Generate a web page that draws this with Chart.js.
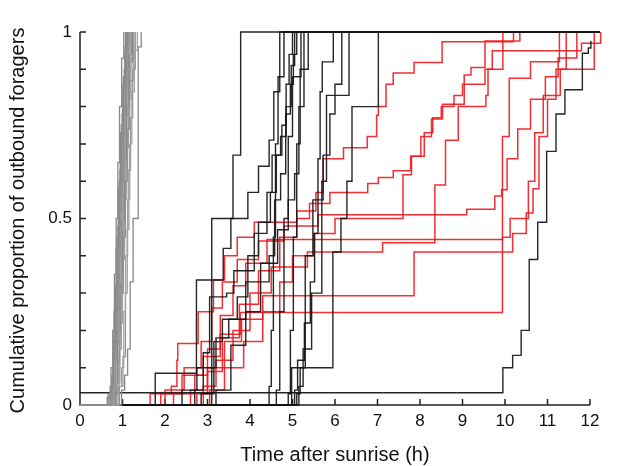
<!DOCTYPE html>
<html><head><meta charset="utf-8">
<style>html,body{margin:0;padding:0;background:#fff}#wrap{width:624px;height:466px}</style>
<script src="https://cdn.jsdelivr.net/npm/chart.js@4/dist/chart.umd.min.js"></script>
</head><body><div id="wrap"><canvas id="c" width="624" height="466"></canvas></div>
<script>
// ---- data: each series = [time after sunrise (h), cumulative proportion] at each step ----
const xTickValues = [0,1,2,3,4,5,6,7,8,9,10,11,12];
const yTickLabels = [0, 0.5, 1];
const yMinorTicks = [0,0.1,0.2,0.3,0.4,0.5,0.6,0.7,0.8,0.9,1];
const observationEnd = 12.22;
const xTitle = "Time after sunrise (h)";
const yTitle = "Cumulative proportion of outbound foragers";

const graySeries = [
 [[0.72,0.05],[0.78,0.15],[0.83,0.30],[0.87,0.45],[0.92,0.60],[0.97,0.75],[1.02,0.88],[1.07,1]],
 [[0.75,0.04],[0.81,0.12],[0.85,0.25],[0.90,0.40],[0.95,0.55],[1.00,0.70],[1.05,0.85],[1.11,0.95],[1.15,1]],
 [[0.68,0.03],[0.77,0.10],[0.82,0.22],[0.88,0.38],[0.93,0.52],[0.98,0.66],[1.03,0.80],[1.09,0.92],[1.13,1]],
 [[0.80,0.05],[0.85,0.18],[0.91,0.33],[0.96,0.47],[1.01,0.62],[1.06,0.77],[1.12,0.90],[1.19,1]],
 [[0.83,0.06],[0.89,0.20],[0.94,0.35],[0.99,0.50],[1.04,0.66],[1.09,0.80],[1.15,0.92],[1.23,1]],
 [[0.66,0.03],[0.73,0.10],[0.77,0.20],[0.81,0.35],[0.85,0.50],[0.89,0.65],[0.93,0.80],[0.98,0.93],[1.03,1]],
 [[0.85,0.04],[0.92,0.15],[0.97,0.30],[1.02,0.45],[1.07,0.60],[1.12,0.74],[1.17,0.87],[1.25,1]],
 [[0.77,0.04],[0.82,0.13],[0.87,0.27],[0.92,0.42],[0.96,0.58],[1.01,0.72],[1.06,0.86],[1.10,1]],
 [[0.90,0.05],[0.98,0.10],[1.03,0.25],[1.07,0.40],[1.12,0.55],[1.17,0.70],[1.22,0.84],[1.28,0.95],[1.35,1]],
 [[0.98,0.04],[1.05,0.08],[1.12,0.15],[1.18,0.33],[1.25,0.50],[1.37,0.71],[1.37,0.96],[1.44,1]],
 [[0.71,0.05],[0.79,0.17],[0.84,0.32],[0.89,0.48],[0.94,0.63],[0.99,0.78],[1.04,0.90],[1.08,1]],
 [[0.81,0.03],[0.87,0.12],[0.93,0.28],[0.98,0.43],[1.03,0.57],[1.08,0.71],[1.13,0.84],[1.17,0.94],[1.21,1]],
 [[0.75,0.07],[0.80,0.20],[0.86,0.36],[0.91,0.51],[0.95,0.67],[1.00,0.82],[1.05,0.94],[1.09,1]],
 [[0.87,0.06],[0.94,0.22],[1.00,0.39],[1.05,0.55],[1.10,0.69],[1.14,0.82],[1.20,0.93],[1.27,1]],
 [[0.64,0.02],[0.75,0.08],[0.80,0.25],[0.85,0.42],[0.90,0.58],[0.95,0.73],[1.01,0.86],[1.06,0.96],[1.11,1]],
 [[0.79,0.05],[0.84,0.16],[0.89,0.31],[0.94,0.46],[0.99,0.62],[1.04,0.76],[1.09,0.88],[1.14,1]],
 [[0.93,0.05],[1.01,0.13],[1.07,0.30],[1.11,0.47],[1.15,0.63],[1.19,0.77],[1.24,0.90],[1.30,1]],
 [[0.82,0.04],[0.88,0.17],[0.94,0.34],[0.99,0.49],[1.04,0.64],[1.09,0.78],[1.14,0.89],[1.18,1]],
 [[0.74,0.04],[0.81,0.14],[0.86,0.29],[0.91,0.44],[0.96,0.60],[1.01,0.74],[1.07,0.87],[1.12,0.97],[1.16,1]],
 [[0.78,0.06],[0.83,0.21],[0.88,0.37],[0.93,0.53],[0.97,0.69],[1.02,0.84],[1.07,0.95],[1.12,1]]
];

const blackSeries = [
 [[3.10,0.50],[3.60,0.67],[3.78,1]],
 [[1.77,0.085],[2.74,0.335],[3.37,0.42],[3.55,0.50],[3.95,0.57],[4.20,0.64],[4.45,0.71],[4.56,0.84],[4.70,1]],
 [[2.70,0.04],[2.90,0.14],[3.05,0.29],[3.45,0.30],[3.62,0.36],[4.10,0.46],[4.40,0.57],[4.52,0.67],[4.75,0.75],[4.85,0.86],[4.92,0.94],[5.00,1]],
 [[2.85,0.03],[3.15,0.17],[3.35,0.23],[3.70,0.29],[3.95,0.40],[4.20,0.49],[4.48,0.57],[4.62,0.67],[4.72,0.72],[4.85,0.80],[4.97,0.91],[5.05,1]],
 [[3.20,0.04],[3.55,0.16],[3.90,0.25],[4.25,0.33],[4.45,0.40],[4.58,0.55],[4.72,0.62],[4.84,0.78],[4.95,0.86],[5.02,0.94],[5.10,1]],
 [[4.62,0.04],[4.70,0.25],[4.80,0.50],[4.90,0.72],[5.00,0.88],[5.20,1]],
 [[4.45,0.05],[4.50,0.20],[4.55,0.45],[4.60,0.70],[4.66,0.88],[4.80,1]],
 [[4.98,0.10],[5.95,0.41],[6.14,0.50],[6.28,0.60],[6.40,0.80],[7.02,1]],
 [[5.05,0.04],[5.12,0.12],[5.28,0.22],[5.42,0.33],[5.52,0.46],[5.60,0.66],[5.65,0.84],[5.70,0.92],[5.96,1]],
 [[5.10,0.03],[5.18,0.10],[5.30,0.40],[5.48,0.55],[5.72,0.67],[5.88,0.78],[6.00,0.86],[6.16,1]],
 [[5.15,0.05],[5.25,0.15],[5.45,0.30],[5.69,0.60],[5.80,0.83],[6.33,1]],
 [[2.40,0.04],[2.75,0.10],[3.20,0.18],[3.50,0.23],[3.90,0.33],[4.25,0.38],[4.65,0.47],[4.90,0.55],[5.05,0.62],[5.15,0.80],[5.27,1]],
 [[4.90,0.03],[4.95,0.20],[5.02,0.45],[5.10,0.70],[5.18,0.90],[5.37,1]],
 [[0,0.033],[9.95,0.10],[10.18,0.133],[10.38,0.20],[10.57,0.39],[10.77,0.49],[10.98,0.68],[11.20,0.78],[11.41,0.845],[11.82,0.943],[11.96,0.957],[12.02,0.976],[12.22,1]]
];

const redSeries = [
 [[1.65,0.03],[2.15,0.05],[2.28,0.12],[2.30,0.165],[2.78,0.25],[3.14,0.335],[3.40,0.40],[3.70,0.45],[4.10,0.49],[5.10,0.52],[5.55,0.57],[5.72,0.66],[6.20,0.69],[6.76,0.72],[6.98,0.777],[7.02,0.80],[7.20,0.86],[7.37,0.89],[7.86,0.918],[8.52,0.974],[10.20,1]],
 [[2.00,0.04],[2.45,0.10],[2.85,0.17],[3.10,0.26],[3.35,0.33],[3.70,0.39],[4.20,0.44],[4.80,0.48],[5.60,0.51],[9.10,0.525],[9.76,0.56],[9.92,0.577],[10.05,0.66],[10.30,0.74],[10.60,0.82],[10.95,0.88],[11.25,0.93],[11.69,1]],
 [[2.20,0.03],[2.70,0.08],[3.00,0.15],[3.30,0.24],[3.60,0.32],[3.90,0.38],[4.40,0.444],[9.94,0.72],[10.10,0.876],[10.60,0.92],[11.28,1]],
 [[1.90,0.03],[2.40,0.08],[2.90,0.13],[3.30,0.19],[3.77,0.248],[9.94,0.41],[10.18,0.46],[10.50,0.515],[10.66,0.58],[10.80,0.72],[11.00,0.82],[11.20,0.90],[11.44,1]],
 [[2.60,0.04],[3.00,0.10],[3.40,0.17],[3.80,0.23],[4.30,0.293],[7.86,0.41],[9.94,0.45],[10.12,0.50],[10.55,0.60],[10.70,0.73],[10.90,0.83],[11.30,0.90],[12.10,1]],
 [[2.90,0.05],[3.20,0.12],[3.60,0.20],[4.00,0.30],[4.50,0.37],[5.35,0.41],[7.12,0.435],[8.35,0.59],[8.60,0.71],[8.90,0.80],[9.55,0.83],[9.60,0.90],[9.95,1]],
 [[2.75,0.03],[3.00,0.09],[3.35,0.18],[3.75,0.27],[4.20,0.36],[4.70,0.45],[5.10,0.50],[5.40,0.54],[5.88,0.57],[6.77,0.594],[7.02,0.61],[7.37,0.628],[7.78,0.667],[8.02,0.72],[8.27,0.767],[8.53,0.806],[9.04,0.885],[9.20,0.905],[9.53,0.976],[10.35,1]],
 [[3.05,0.04],[3.40,0.10],[3.85,0.17],[4.30,0.25],[4.70,0.33],[5.00,0.40],[5.50,0.46],[6.00,0.50],[7.60,0.617],[7.80,0.667],[8.10,0.73],[8.30,0.77],[8.50,0.80],[8.80,0.83],[9.00,0.86],[9.53,0.90],[9.70,0.95],[11.80,0.97],[12.25,1]]
];

// ---- build datasets ----
function toPoints(steps, extendTo) {
  const pts = [];
  if (steps[0][0] > 0) pts.push({x: 0, y: 0});
  steps.forEach(s => pts.push({x: s[0], y: s[1]}));
  if (extendTo && steps[steps.length-1][0] < extendTo) pts.push({x: extendTo, y: 1});
  return pts;
}
const grayShades = ['#8a8a8a','#959595','#8f8f8f','#a3a3a3','#888888'];
const datasets = [];
graySeries.forEach((s,i) => datasets.push({data: toPoints(s, null), borderColor: grayShades[i % grayShades.length], borderWidth: 1.3}));
blackSeries.forEach(s => datasets.push({data: toPoints(s, observationEnd), borderColor: 'rgba(20,20,20,0.92)', borderWidth: 1.4}));
redSeries.forEach(s => datasets.push({data: toPoints(s, null), borderColor: 'rgba(240,24,30,0.9)', borderWidth: 1.5}));
datasets.forEach(d => { d.stepped = 'before'; d.pointRadius = 0; d.fill = false; d.clip = false; });

const FONT = "'Liberation Sans', Arial, Helvetica, sans-serif";

const axesPlugin = {
  id: 'axesPlugin',
  beforeDatasetsDraw(chart) {
    const {ctx, scales: {x, y}} = chart;
    ctx.save();
    ctx.strokeStyle = '#222';
    ctx.lineWidth = 1.5;
    ctx.beginPath();
    const x0 = x.getPixelForValue(0), x12 = x.getPixelForValue(12);
    const y0 = y.getPixelForValue(0), y1 = y.getPixelForValue(1);
    ctx.moveTo(x0, y1); ctx.lineTo(x0, y0); ctx.lineTo(x12, y0);
    xTickValues.forEach(v => { const px = x.getPixelForValue(v); ctx.moveTo(px, y0); ctx.lineTo(px, y0 - 6); });
    yMinorTicks.forEach(v => { const py = y.getPixelForValue(v); ctx.moveTo(x0, py); ctx.lineTo(x0 + 6, py); });
    ctx.stroke();
    ctx.restore();
  },
  afterDraw(chart) {
    const {ctx, scales: {x, y}} = chart;
    ctx.save();
    ctx.fillStyle = '#111';
    ctx.font = '20px ' + FONT;
    ctx.textAlign = 'center';
    ctx.textBaseline = 'middle';
    ctx.fillText(xTitle, (x.getPixelForValue(0) + x.getPixelForValue(12)) / 2, 455);
    ctx.translate(18, (y.getPixelForValue(0) + y.getPixelForValue(1)) / 2 + 2);
    ctx.rotate(-Math.PI / 2);
    ctx.fillText(yTitle, 0, 0);
    ctx.restore();
  }
};

new Chart(document.getElementById('c'), {
  type: 'line',
  data: {datasets},
  options: {
    responsive: false,
    animation: false,
    devicePixelRatio: 1,
    layout: {padding: {top: 32, right: 34, left: 0, bottom: 0}},
    plugins: {legend: {display: false}, tooltip: {enabled: false}},
    scales: {
      x: {
        type: 'linear', min: 0, max: 12,
        grid: {display: false, drawTicks: false},
        border: {display: false},
        afterBuildTicks: s => { s.ticks = xTickValues.map(v => ({value: v})); },
        ticks: {font: {size: 17, family: FONT}, color: '#111', padding: 6, maxRotation: 0},
        afterFit: s => { s.height = 61; }
      },
      y: {
        type: 'linear', min: 0, max: 1,
        grid: {display: false, drawTicks: false},
        border: {display: false},
        afterBuildTicks: s => { s.ticks = yTickLabels.map(v => ({value: v})); },
        ticks: {font: {size: 17, family: FONT}, color: '#111', padding: 8, callback: v => String(v)},
        afterFit: s => { s.width = 80; }
      }
    }
  },
  plugins: [axesPlugin]
});
</script>
</body></html>
